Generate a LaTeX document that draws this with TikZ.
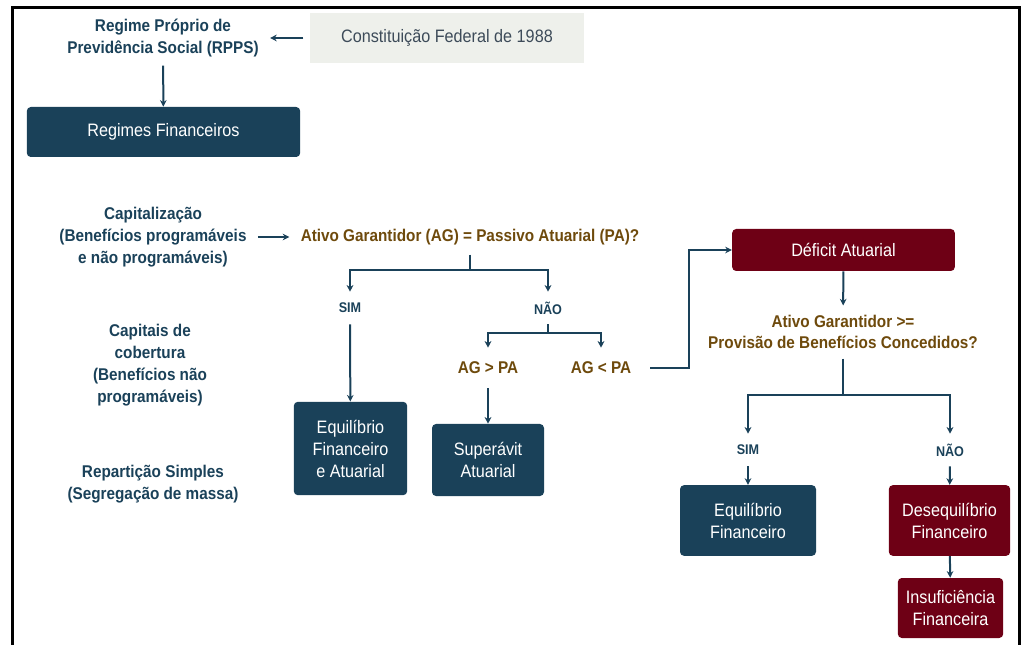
\documentclass[tikz,border=0pt]{standalone}
\usepackage{fontspec}
\setmainfont{Liberation Sans}[FakeStretch=0.9]
\usetikzlibrary{arrows.meta}

\definecolor{navy}{HTML}{1A4159}
\definecolor{wine}{HTML}{6E0015}
\definecolor{ochre}{HTML}{6E4A0C}
\definecolor{paper}{HTML}{EEF0EB}
\definecolor{slate}{HTML}{3D4B59}

\begin{document}
\begin{tikzpicture}[x=0.75pt,y=-0.75pt,
  title/.style={font=\bfseries\fontsize{12.75}{16.5}\selectfont, text=navy, align=center},
  ask/.style={font=\bfseries\fontsize{12.75}{16}\selectfont, text=ochre, align=center, inner ysep=7pt},
  lbl/.style={font=\bfseries\fontsize{10.5}{12}\selectfont, text=navy, inner sep=0pt, minimum height=24pt},
  cmp/.style={font=\bfseries\fontsize{12.75}{15}\selectfont, text=ochre, inner sep=0pt, minimum height=30pt},
  box/.style={fill=navy, text=white, rounded corners=3pt, align=center, font=\fontsize{13.5}{16.5}\selectfont},
  redbox/.style={box, fill=wine},
  arr/.style={draw=navy, line width=1.5pt, -{Stealth[length=5pt,width=5pt]}},
  line/.style={draw=navy, line width=1.5pt}]
  \useasboundingbox (0,0) rectangle (1022,645);
  \draw[line width=2.25pt] (12.5,660) -- (12.5,7.5) -- (1019.5,7.5) -- (1019.5,660);

  \node[title] (rpps) at (163,38) {Regime Próprio de\\Previdência Social (RPPS)};
  \node[fill=paper, text=slate, minimum width=205pt, minimum height=37.5pt, font=\fontsize{13.5}{16}\selectfont] (cf) at (447,38) {Constituição Federal de 1988};
  \node[box, minimum width=205pt, minimum height=37.5pt] (reg) at (163.5,132) {Regimes Financeiros};
  \node[title] (cap) at (153,237) {Capitalização\\(Benefícios programáveis\\e não programáveis)};
  \node[title] (cob) at (150,365) {Capitais de\\cobertura\\(Benefícios não\\programáveis)};
  \node[title] (rep) at (153,484) {Repartição Simples\\(Segregação de massa)};
  \node[ask] (q1) at (470,237) {Ativo Garantidor (AG) = Passivo Atuarial (PA)?};
  \node[lbl] (sim1) at (350,308) {SIM};
  \node[lbl] (nao1) at (548,308) {NÃO};
  \node[cmp] (maior) at (488,368) {AG > PA};
  \node[cmp] (menor) at (601,368) {AG < PA};
  \node[box, minimum width=85pt, minimum height=70pt] (eqfa) at (350.5,448.5) {Equilíbrio\\Financeiro\\e Atuarial};
  \node[box, minimum width=84pt, minimum height=54pt] (sup) at (488,460) {Superávit\\Atuarial};
  \node[redbox, minimum width=167pt, minimum height=31.5pt] (def) at (843.5,250) {Déficit Atuarial};
  \node[ask] (q2) at (843,332) {Ativo Garantidor >=\\Provisão de Benefícios Concedidos?};
  \node[lbl] (sim2) at (748,450) {SIM};
  \node[lbl] (nao2) at (950,450) {NÃO};
  \node[box, minimum width=102pt, minimum height=53pt] (eqf) at (748,520.5) {Equilíbrio\\Financeiro};
  \node[redbox, minimum width=91pt, minimum height=53pt] (deseq) at (949.5,520.5) {Desequilíbrio\\Financeiro};
  \node[redbox, minimum width=79pt, minimum height=45pt] (insuf) at (950.5,608) {Insuficiência\\Financeira};

  \coordinate (b1) at (470,270);
  \coordinate (b2) at (548,333);
  \coordinate (b3) at (843,395);
  \coordinate (c1) at (689,368);

  \draw[arr, shorten <=5pt, shorten >=5pt] (cf) -- (rpps);
  \draw[arr, shorten <=3pt] (rpps) -- (reg);
  \draw[arr, shorten <=5pt, shorten >=5pt] (cap) -- (q1);
  \draw[line] (q1) -- (b1);
  \draw[arr] (b1) -| (sim1);
  \draw[arr] (b1) -| (nao1);
  \draw[arr] (sim1) -- (eqfa);
  \draw[line] (nao1) -- (b2);
  \draw[arr] (b2) -| (maior);
  \draw[arr] (b2) -| (menor);
  \draw[arr] (maior) -- (sup);
  \draw[arr, shorten <=14pt] (menor) -- (c1) |- (def);
  \draw[arr] (def) -- (q2);
  \draw[line] (q2) -- (b3);
  \draw[arr] (b3) -| (sim2);
  \draw[arr] (b3) -| (nao2);
  \draw[arr] (sim2) -- (eqf);
  \draw[arr] (nao2) -- (deseq);
  \draw[arr] (deseq) -- (insuf);
\end{tikzpicture}
\end{document}
